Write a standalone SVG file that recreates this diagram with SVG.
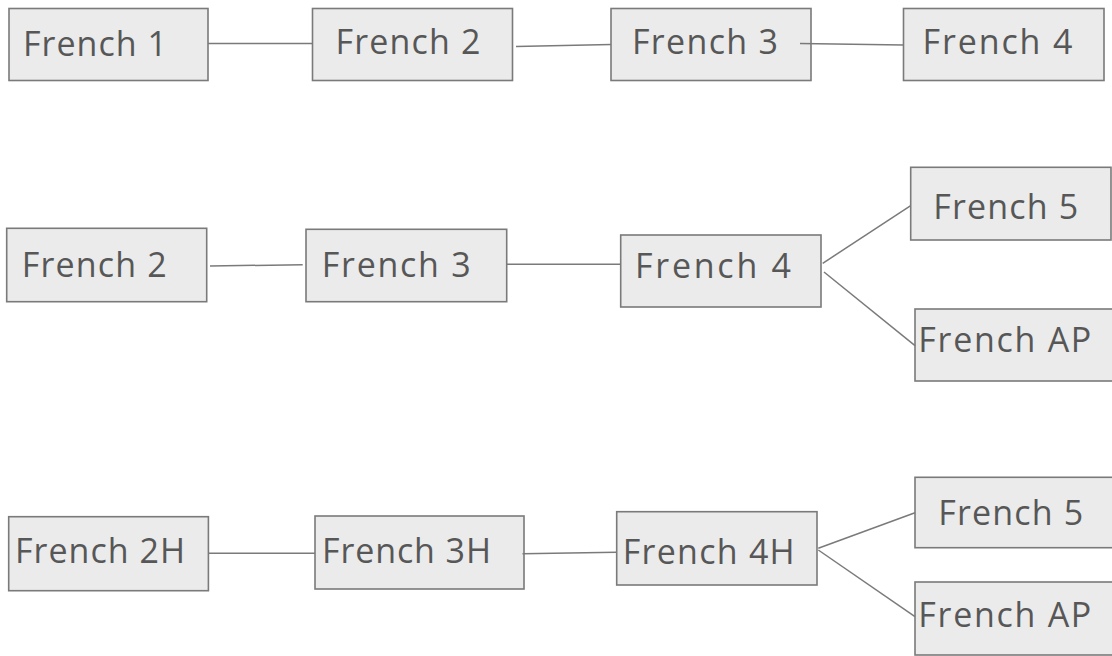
<svg xmlns="http://www.w3.org/2000/svg" width="1112" height="656" viewBox="0 0 1112 656">
<style>
.box{fill:#ebebeb;stroke:#7a7a7a;stroke-width:1.6}
.lbl{font-family:"Open Sans","Liberation Sans",sans-serif;font-size:34px;fill:#575757}
.edge{stroke:#7a7a7a;stroke-width:1.5;fill:none}
</style>
<rect width="1112" height="656" fill="#ffffff"/>
<g id="r1-french1"><rect class="box" x="9" y="8.5" width="199" height="72"/><text class="lbl" x="23" y="56" textLength="144" lengthAdjust="spacing">French 1</text></g>
<g id="r1-french2"><rect class="box" x="312.5" y="8.5" width="200" height="72"/><text class="lbl" x="335.5" y="54" textLength="145" lengthAdjust="spacing">French 2</text></g>
<g id="r1-french3"><rect class="box" x="611" y="8.5" width="200" height="72"/><text class="lbl" x="632" y="54" textLength="146" lengthAdjust="spacing">French 3</text></g>
<g id="r1-french4"><rect class="box" x="903.5" y="8.5" width="200.5" height="72"/><text class="lbl" x="922.5" y="53.5" textLength="150" lengthAdjust="spacing">French 4</text></g>
<g id="r2-french2"><rect class="box" x="6.7" y="228.3" width="200" height="73.4"/><text class="lbl" x="21.7" y="277.3" textLength="145" lengthAdjust="spacing">French 2</text></g>
<g id="r2-french3"><rect class="box" x="306" y="229.3" width="200.7" height="72.4"/><text class="lbl" x="321.7" y="277.3" textLength="149" lengthAdjust="spacing">French 3</text></g>
<g id="r2-french4"><rect class="box" x="620.7" y="235" width="200.3" height="72"/><text class="lbl" x="635" y="278" textLength="156" lengthAdjust="spacing">French 4</text></g>
<g id="r2-french5"><rect class="box" x="910.7" y="167.3" width="200.3" height="72.7"/><text class="lbl" x="933.3" y="219.3" textLength="145" lengthAdjust="spacing">French 5</text></g>
<g id="r2-frenchap"><rect class="box" x="915" y="309" width="200" height="72"/><text class="lbl" x="918.3" y="352.3" textLength="173" lengthAdjust="spacing">French AP</text></g>
<g id="r3-french2h"><rect class="box" x="8.7" y="516.7" width="199.7" height="74"/><text class="lbl" x="15" y="563.3" textLength="170" lengthAdjust="spacing">French 2H</text></g>
<g id="r3-french3h"><rect class="box" x="315" y="516" width="209" height="73"/><text class="lbl" x="322" y="563" textLength="169" lengthAdjust="spacing">French 3H</text></g>
<g id="r3-french4h"><rect class="box" x="616.7" y="511.7" width="200.3" height="73.3"/><text class="lbl" x="622.7" y="564" textLength="172" lengthAdjust="spacing">French 4H</text></g>
<g id="r3-french5"><rect class="box" x="915" y="477.3" width="200" height="70.4"/><text class="lbl" x="938.3" y="525" textLength="145" lengthAdjust="spacing">French 5</text></g>
<g id="r3-frenchap"><rect class="box" x="915" y="582" width="200" height="73"/><text class="lbl" x="918.3" y="626.5" textLength="173" lengthAdjust="spacing">French AP</text></g>
<g id="connectors">
<line class="edge" x1="208" y1="43.5" x2="312.5" y2="43.5"/>
<line class="edge" x1="516" y1="46.5" x2="611" y2="44.5"/>
<line class="edge" x1="800" y1="43.5" x2="903.5" y2="45"/>
<line class="edge" x1="210" y1="266" x2="302.7" y2="264.7"/>
<line class="edge" x1="506.7" y1="264.3" x2="620.7" y2="264.3"/>
<line class="edge" x1="822.7" y1="263.3" x2="910.7" y2="205.7"/>
<line class="edge" x1="824" y1="272" x2="915" y2="345.7"/>
<line class="edge" x1="208.4" y1="553.3" x2="315" y2="553.3"/>
<line class="edge" x1="522.5" y1="553.7" x2="616.7" y2="552.3"/>
<line class="edge" x1="818.3" y1="548.3" x2="915" y2="512.7"/>
<line class="edge" x1="818.3" y1="550" x2="915" y2="616.7"/>
</g>
</svg>
